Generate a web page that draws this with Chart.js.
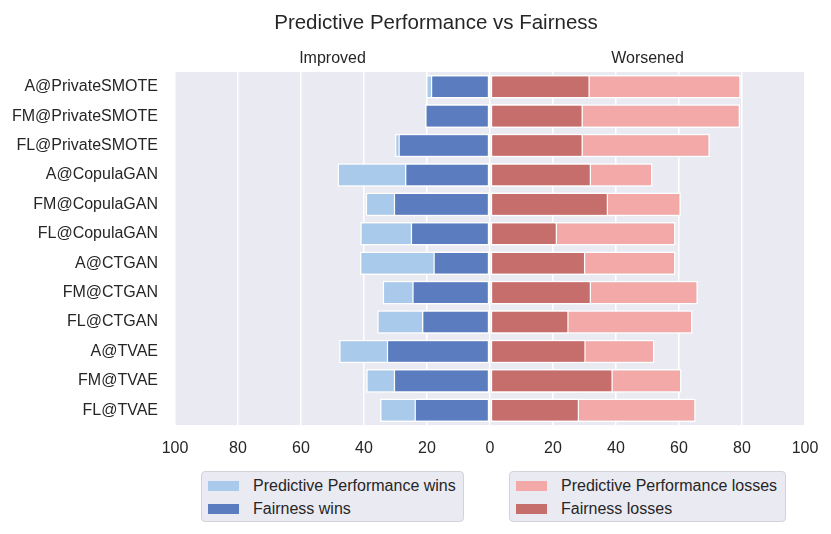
<!DOCTYPE html>
<html>
<head>
<meta charset="utf-8">
<script src="https://cdn.jsdelivr.net/npm/chart.js@4/dist/chart.umd.min.js"></script>
<style>
  body { margin: 0; background: #fff; font-family: "Liberation Sans", Arial, sans-serif; }
  #wrap { position: relative; width: 831px; height: 534px; }
  .legend { position: absolute; top: 471px; height: 51px; box-sizing: border-box;
    background: #EAEAF2; border: 1px solid #d2d2d8; border-radius: 4px;
    padding: 2px 6px; font-size: 16px; color: #262626; }
  .legend div { display: flex; align-items: center; height: 23px; }
  .legend span.sw { width: 31px; height: 10px; margin-right: 14px; display: inline-block; }
</style>
</head>
<body>
<div id="wrap">
  <canvas id="chart" width="831" height="534"></canvas>
  <div class="legend" id="legLeft" style="left:201px; width:263px;"></div>
  <div class="legend" id="legRight" style="left:509px; width:277px;"></div>
</div>
<script>
const categories = ['A@PrivateSMOTE', 'FM@PrivateSMOTE', 'FL@PrivateSMOTE', 'A@CopulaGAN',
  'FM@CopulaGAN', 'FL@CopulaGAN', 'A@CTGAN', 'FM@CTGAN', 'FL@CTGAN', 'A@TVAE', 'FM@TVAE', 'FL@TVAE'];

// percentages (left side = improved, right side = worsened)
const perfWins    = [20.3, 20.6, 30.2, 48.4, 39.5, 41.2, 41.3, 34.1, 35.8, 47.9, 39.3, 34.9];
const fairWins    = [18.8, 20.6, 29.1, 27.0, 30.6, 25.2, 18.0, 24.7, 21.6, 32.8, 30.6, 24.0];
const perfLosses  = [79.6, 79.4, 69.8, 51.6, 60.6, 58.9, 58.9, 66.0, 64.3, 52.2, 60.8, 65.3];
const fairLosses  = [31.7, 29.5, 29.5, 32.1, 37.5, 21.3, 30.3, 32.1, 25.0, 30.4, 39.0, 28.3];

const xTicks = [-100, -80, -60, -40, -20, 0, 20, 40, 60, 80, 100];

const txt = '#262626';
const font = '"Liberation Sans", Arial, sans-serif';

// plot background + title + side captions
const decor = {
  id: 'decor',
  beforeDraw(chart) {
    const { ctx, chartArea: a } = chart;
    ctx.save();
    ctx.fillStyle = '#EAEAF2';
    ctx.fillRect(a.left, a.top, a.right - a.left, a.bottom - a.top);
    ctx.restore();
  },
  afterDraw(chart) {
    const { ctx } = chart;
    const x = chart.scales.x;
    ctx.save();
    ctx.fillStyle = txt;
    ctx.textAlign = 'center';
    ctx.textBaseline = 'alphabetic';
    ctx.font = '20.5px ' + font;
    ctx.fillText('Predictive Performance vs Fairness', 436, 29);
    ctx.font = '16px ' + font;
    ctx.fillText('Improved', x.getPixelForValue(-50), 63);
    ctx.fillText('Worsened', x.getPixelForValue(50), 63);
    ctx.restore();
  }
};

const neg = arr => arr.map(v => -v);

const chart = new Chart(document.getElementById('chart'), {
  type: 'bar',
  data: {
    labels: categories,
    datasets: [
      { label: 'Predictive Performance wins', data: neg(perfWins), backgroundColor: '#AACAEC', order: 2 },
      { label: 'Fairness wins', data: neg(fairWins), backgroundColor: '#5B7DBF', order: 1 },
      { label: 'Predictive Performance losses', data: perfLosses, backgroundColor: '#F2A9A7', order: 2 },
      { label: 'Fairness losses', data: fairLosses, backgroundColor: '#C56E6C', order: 1 }
    ]
  },
  options: {
    responsive: false,
    animation: false,
    indexAxis: 'y',
    layout: { padding: { top: 72, right: 26, left: 0, bottom: 0 } },
    datasets: {
      bar: {
        grouped: false,
        categoryPercentage: 1,
        barPercentage: 0.8,
        borderColor: '#ffffff',
        borderWidth: 1.5,
        borderSkipped: false
      }
    },
    plugins: {
      legend: { display: false },
      title: { display: false },
      tooltip: { enabled: false }
    },
    scales: {
      x: {
        min: -100, max: 100,
        afterBuildTicks: s => { s.ticks = xTicks.map(v => ({ value: v })); },
        afterFit: s => { s.height = 109; s.paddingLeft = 0; s.paddingRight = 0; },
        grid: { color: '#ffffff', lineWidth: 1.5, drawTicks: false },
        border: { display: false },
        ticks: { color: txt, font: { size: 16, family: font }, padding: 14,
          maxRotation: 0, callback: v => Math.abs(v) }
      },
      y: {
        afterFit: s => { s.width = 175; },
        grid: { display: false, drawTicks: false },
        border: { display: false },
        ticks: { color: txt, font: { size: 16, family: font }, padding: 17 }
      }
    }
  },
  plugins: [decor]
});

// two legend boxes, built from the datasets
function buildLegend(el, idx) {
  idx.forEach(i => {
    const ds = chart.data.datasets[i];
    const row = document.createElement('div');
    const sw = document.createElement('span');
    sw.className = 'sw';
    sw.style.background = ds.backgroundColor;
    row.appendChild(sw);
    row.appendChild(document.createTextNode(ds.label));
    el.appendChild(row);
  });
}
buildLegend(document.getElementById('legLeft'), [0, 1]);
buildLegend(document.getElementById('legRight'), [2, 3]);
</script>
</body>
</html>
